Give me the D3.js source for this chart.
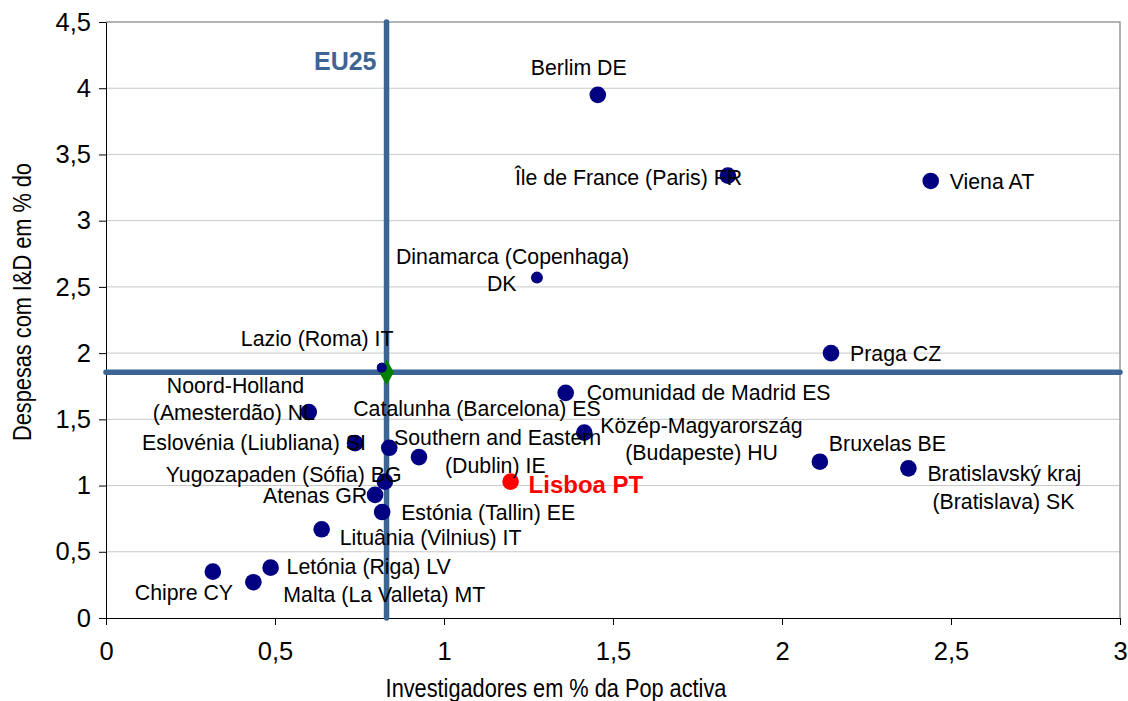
<!DOCTYPE html>
<html>
<head>
<meta charset="utf-8">
<script src="https://cdn.jsdelivr.net/npm/d3@7"></script>
<style>
  body { margin: 0; background: #fff; }
  svg { display: block; font-family: "Liberation Sans", Arial, sans-serif; }
  .grid line { stroke: #c8c8c8; stroke-width: 1; }
  .axis path, .axis line { stroke: #000; }
  .axis text { font-size: 25.5px; fill: #000; }
</style>
</head>
<body>
<div id="chart"></div>
<script>
// regions: researchers (% of active pop) vs R&D spending (% of GDP)
var regions = [
  "Berlim DE", "Île de France (Paris) FR", "Viena AT", "Dinamarca (Copenhaga)\nDK",
  "Praga CZ", "Lazio (Roma) IT", "Comunidad de Madrid ES", "Noord-Holland\n(Amesterdão) NL",
  "Közép-Magyarország\n(Budapeste) HU", "Eslovénia (Liubliana) SI", "Catalunha (Barcelona) ES",
  "Southern and Eastern\n(Dublin) IE", "Bruxelas BE", "Bratislavský kraj\n(Bratislava) SK",
  "Lisboa PT", "Yugozapaden (Sófia) BG", "Atenas GR", "Estónia (Tallin) EE",
  "Lituânia (Vilnius) IT", "Letónia (Riga) LV", "Malta (La Valleta) MT", "Chipre CY"
];
var researchers = [1.455, 1.84, 2.44, 1.275, 2.145, 0.816, 1.36, 0.60, 1.415, 0.737, 0.838,
                   0.926, 2.112, 2.374, 1.197, 0.825, 0.796, 0.817, 0.638, 0.487, 0.436, 0.316];
var rdSpending  = [3.95, 3.34, 3.30, 2.57, 2.00, 1.89, 1.70, 1.555, 1.40, 1.32, 1.285,
                   1.215, 1.18, 1.13, 1.03, 1.03, 0.93, 0.80, 0.67, 0.38, 0.27, 0.35];
var eu25 = {name: "EU25", x: 0.83, y: 1.855};
var highlight = "Lisboa PT";
var smallDots = {"Dinamarca (Copenhaga)\nDK": 6, "Lazio (Roma) IT": 5};

var xTicks = [0, 0.5, 1, 1.5, 2, 2.5, 3],
    yTicks = [0, 0.5, 1, 1.5, 2, 2.5, 3, 3.5, 4, 4.5];

// label placement, one [dx, dy] per text line, relative to the dot
var labelPos = [
  [[-67, -20]], [[-213, 9]], [[19, 8]], [[-141, -14], [-50, 13]],
  [[19, 8]], [[-141, -22]], [[21, 7]], [[-142, -19], [-156, 8]],
  [[16, 0], [41, 27]], [[-213, 7]], [[-36, -32]],
  [[-25, -12], [26, 16]], [[9, -11]], [[19, 13], [24, 41]],
  [[18, 11]], [[-219, 0]], [[-112, 8]], [[19, 8]],
  [[18, 16]], [[16, 6]], [[30, 20]], [[-78, 28]]
];

var W = 1128, H = 701;
var margin = {top: 22, left: 106, right: 8, bottom: 83},
    width = W - margin.left - margin.right,
    height = H - margin.top - margin.bottom;

var fmt = function(d) { return String(d).replace(".", ","); };

var x = d3.scaleLinear().domain([0, 3]).range([0, width]),
    y = d3.scaleLinear().domain([0, 4.5]).range([height, 0]);

var svg = d3.select("#chart").append("svg").attr("width", W).attr("height", H);
var g = svg.append("g").attr("transform", "translate(" + margin.left + "," + margin.top + ")");

g.append("g").attr("class", "grid")
  .selectAll("line").data(yTicks.slice(1, -1)).enter().append("line")
    .attr("x1", 0).attr("x2", width)
    .attr("y1", function(d) { return y(d); }).attr("y2", function(d) { return y(d); });

// top and right frame
g.append("path")
  .attr("d", "M0," + y(4.5) + "H" + x(3) + "V" + y(0))
  .attr("fill", "none").attr("stroke", "#9a9a9a").attr("stroke-width", 1.5);

g.append("g").attr("class", "axis")
  .attr("transform", "translate(0," + height + ")")
  .call(d3.axisBottom(x).tickValues(xTicks).tickFormat(fmt).tickSizeInner(7).tickSizeOuter(0).tickPadding(17));

g.append("g").attr("class", "axis")
  .call(d3.axisLeft(y).tickValues(yTicks).tickFormat(fmt).tickSizeInner(7).tickSizeOuter(0).tickPadding(8));

// EU25 reference lines
g.append("line")
  .attr("x1", x(0)).attr("x2", x(3)).attr("y1", y(eu25.y)).attr("y2", y(eu25.y))
  .attr("stroke", "#3d6594").attr("stroke-width", 5.5).attr("stroke-linecap", "round");
g.append("line")
  .attr("x1", x(eu25.x)).attr("x2", x(eu25.x)).attr("y1", y(4.5)).attr("y2", y(0))
  .attr("stroke", "#3d6594").attr("stroke-width", 5.5).attr("stroke-linecap", "round");
g.append("text")
  .attr("x", x(eu25.x) - 10).attr("y", y(4.5) + 48)
  .attr("text-anchor", "end").attr("font-size", 25).attr("font-weight", "bold")
  .attr("fill", "#3d6594").text(eu25.name);

var pts = g.append("g");
regions.forEach(function(name, i) {
  var cx = x(researchers[i]), cy = y(rdSpending[i]);
  var isHi = name === highlight;
  pts.append("circle")
    .attr("cx", cx).attr("cy", cy)
    .attr("r", smallDots[name] || 8.3)
    .attr("fill", isHi ? "#ff0000" : "#000080");
});

g.append("path")
  .attr("d", d3.symbol(d3.symbolDiamond, 190)())
  .attr("transform", "translate(" + x(eu25.x) + "," + y(eu25.y) + ")")
  .attr("fill", "#008000");

// Lazio dot sits on top of the diamond
var lazio = regions.indexOf("Lazio (Roma) IT");
g.append("circle").attr("cx", x(researchers[lazio])).attr("cy", y(rdSpending[lazio]))
  .attr("r", 5).attr("fill", "#000080");

var labels = g.append("g");
regions.forEach(function(name, i) {
  var cx = x(researchers[i]), cy = y(rdSpending[i]);
  var isHi = name === highlight;
  name.split("\n").forEach(function(line, j) {
    var p = labelPos[i][j];
    labels.append("text")
      .attr("x", cx + p[0]).attr("y", cy + p[1])
      .attr("font-size", isHi ? 24 : 21.3)
      .attr("font-weight", isHi ? "bold" : "normal")
      .attr("fill", isHi ? "#ff0000" : "#000")
      .text(line);
  });
});

// axis titles
svg.append("text")
  .attr("transform", "translate(556,697) scale(0.87,1)")
  .attr("text-anchor", "middle").attr("font-size", 25)
  .text("Investigadores em % da Pop activa");
svg.append("text")
  .attr("transform", "translate(31,302) rotate(-90) scale(0.87,1)")
  .attr("text-anchor", "middle").attr("font-size", 25)
  .text("Despesas com I&D em % do");
</script>
</body>
</html>
